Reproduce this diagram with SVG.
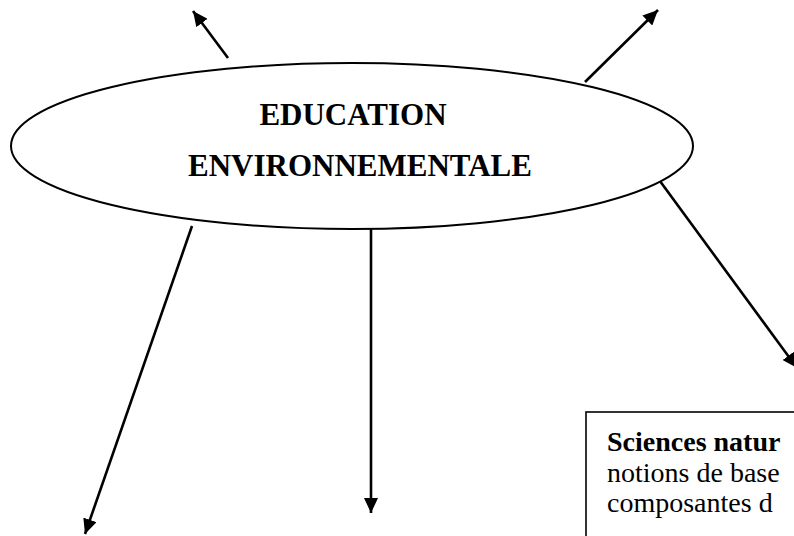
<svg xmlns="http://www.w3.org/2000/svg" width="794" height="536" viewBox="0 0 794 536">
<style>
.edge{stroke:#000;stroke-width:2.6;fill:none;marker-end:url(#ah);}
.title{font-family:"Liberation Serif","Times New Roman",serif;font-weight:bold;font-size:31px;fill:#000;}
.body{font-family:"Liberation Serif","Times New Roman",serif;font-size:28px;fill:#000;}
</style>
<defs>
<marker id="ah" markerUnits="userSpaceOnUse" markerWidth="16" markerHeight="14" refX="15" refY="7" orient="auto">
<path d="M0,0 L15,7 L0,14 Z" fill="#000"/>
</marker>
</defs>
<rect width="794" height="536" fill="#fff"/>
<g id="connectors">
<line class="edge" x1="228" y1="58" x2="193" y2="11"/>
<line class="edge" x1="585" y1="82" x2="658" y2="10"/>
<line class="edge" x1="657" y1="177" x2="797" y2="368"/>
<line class="edge" x1="192" y1="226" x2="85" y2="534"/>
<line class="edge" x1="371" y1="225" x2="371" y2="513"/>
</g>
<g id="node-education">
<ellipse cx="352" cy="146" rx="341" ry="83" fill="#fff" stroke="#000" stroke-width="2"/>
<text class="title" x="353" y="125" text-anchor="middle">EDUCATION</text>
<text class="title" x="360" y="176" text-anchor="middle">ENVIRONNEMENTALE</text>
</g>
<g id="node-sciences">
<rect x="586" y="412" width="230" height="150" fill="#fff" stroke="#000" stroke-width="1.6"/>
<text class="body" x="607" y="451" font-size="29"><tspan font-weight="bold">Sciences natur</tspan></text>
<text class="body" x="607" y="481.5">notions de base</text>
<text class="body" x="607" y="512">composantes d</text>
</g>
</svg>
